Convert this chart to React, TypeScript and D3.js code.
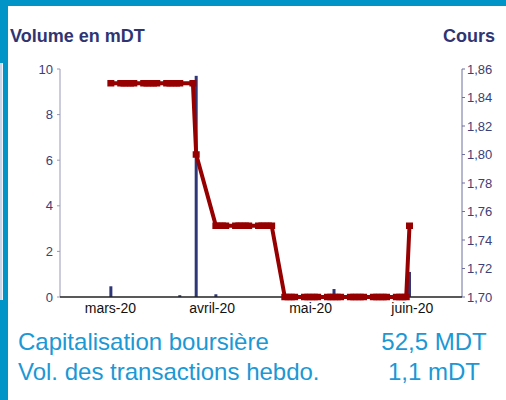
import React from "react";
import * as d3 from "d3";

// ---- data ----
const priceDates = [
  "2020-02-28",
  "2020-03-02", "2020-03-03", "2020-03-04", "2020-03-05", "2020-03-06",
  "2020-03-09", "2020-03-10", "2020-03-11", "2020-03-12", "2020-03-13",
  "2020-03-16", "2020-03-17", "2020-03-18", "2020-03-19", "2020-03-20",
  "2020-03-24", "2020-03-25",
  "2020-03-31", "2020-04-01", "2020-04-02", "2020-04-03",
  "2020-04-06", "2020-04-07", "2020-04-08", "2020-04-09", "2020-04-10",
  "2020-04-13", "2020-04-14", "2020-04-15", "2020-04-16", "2020-04-17",
  "2020-04-21", "2020-04-22", "2020-04-23", "2020-04-24",
  "2020-04-27", "2020-04-28", "2020-04-29", "2020-04-30", "2020-05-01",
  "2020-05-04", "2020-05-05", "2020-05-06", "2020-05-07", "2020-05-08",
  "2020-05-11", "2020-05-12", "2020-05-13", "2020-05-14", "2020-05-15",
  "2020-05-18", "2020-05-19", "2020-05-20", "2020-05-21", "2020-05-22",
  "2020-05-25", "2020-05-26", "2020-05-27", "2020-05-28",
  "2020-05-29",
];
const priceValues = [
  1.85,
  1.85, 1.85, 1.85, 1.85, 1.85,
  1.85, 1.85, 1.85, 1.85, 1.85,
  1.85, 1.85, 1.85, 1.85, 1.85,
  1.85, 1.80,
  1.75, 1.75, 1.75, 1.75,
  1.75, 1.75, 1.75, 1.75, 1.75,
  1.75, 1.75, 1.75, 1.75, 1.75,
  1.70, 1.70, 1.70, 1.70,
  1.70, 1.70, 1.70, 1.70, 1.70,
  1.70, 1.70, 1.70, 1.70, 1.70,
  1.70, 1.70, 1.70, 1.70, 1.70,
  1.70, 1.70, 1.70, 1.70, 1.70,
  1.70, 1.70, 1.70, 1.70,
  1.75,
];
const volumeDates = ["2020-02-28", "2020-03-20", "2020-03-25", "2020-03-31", "2020-05-06", "2020-05-29"];
const volumeValues = [0.47, 0.08, 9.7, 0.12, 0.35, 1.1];
const monthTicks = ["2020-03-01", "2020-04-01", "2020-05-01", "2020-06-01"];
const monthLabels = ["mars-20", "avril-20", "mai-20", "juin-20"];
const volumeTicks = [0, 2, 4, 6, 8, 10];
const priceTicks = [1.7, 1.72, 1.74, 1.76, 1.78, 1.8, 1.82, 1.84, 1.86];
const titleLeft = "Volume en mDT";
const titleRight = "Cours";
const infoLabels = ["Capitalisation boursière", "Vol. des transactions hebdo."];
const infoValues = ["52,5 MDT", "1,1 mDT"];

const parse = (s: string) => {
  const [y, m, d] = s.split("-").map(Number);
  return new Date(y, m - 1, d);
};

const FONT = "'Liberation Sans', Arial, sans-serif";
const NAVY = "#2f3572";
const AXIS_TXT = "#3b4079";
const RED = "#960000";
const BAR = "#2e3878";
const BLUE = "#0095c6";
const INFO = "#1b98d5";

export default function App() {
  const W = 506, H = 400;
  const left = 60, right = 462, top = 69, bottom = 297;

  const x = d3.scaleTime()
    .domain([new Date(2020, 1, 12, 12), new Date(2020, 5, 14)])
    .range([left, right]);
  const yVol = d3.scaleLinear().domain([0, 10]).range([bottom, top]);
  const yPrice = d3.scaleLinear().domain([1.7, 1.86]).range([bottom, top]);

  const pts = priceDates.map((d, i) => ({ d: parse(d), v: priceValues[i] }));
  const line = d3.line<{ d: Date; v: number }>()
    .x((p) => x(p.d))
    .y((p) => yPrice(p.v));

  const barW = 3;
  const mw = 7, mh = 6.5;
  const fmtPrice = (v: number) => v.toFixed(2).replace(".", ",");

  return (
    <svg width={W} height={H} style={{ position: "absolute", left: 0, top: 0, background: "#fff" }}
      fontFamily={FONT}>
      <rect x={0} y={0} width={W} height={H} fill="#fff" />
      {/* frame */}
      <rect x={0} y={0} width={W} height={6} fill={BLUE} />
      <rect x={0} y={0} width={8} height={H} fill={BLUE} />
      <rect x={0} y={63} width={2} height={237} fill="#c9d7ea" />
      <rect x={2} y={63} width={1} height={237} fill="#eef4fa" />

      {/* titles */}
      <text x={10} y={42} fontSize={18} fontWeight="bold" fill={NAVY}>{titleLeft}</text>
      <text x={495} y={42} fontSize={18} fontWeight="bold" fill={NAVY} textAnchor="end">{titleRight}</text>

      {/* bars */}
      {volumeDates.map((d, i) => (
        <rect key={d} x={x(parse(d)) - barW / 2} y={yVol(volumeValues[i])} width={barW}
          height={yVol(0) - yVol(volumeValues[i])} fill={BAR} />
      ))}

      {/* axes */}
      <line x1={left} x2={left} y1={top} y2={bottom} stroke="#9799b8" strokeWidth={1} />
      <line x1={right} x2={right} y1={top} y2={bottom} stroke="#6d70a0" strokeWidth={1} />
      {volumeTicks.map((t) => (
        <g key={t}>
          <line x1={left - 3} x2={left} y1={yVol(t)} y2={yVol(t)} stroke="#9799b8" />
          <text x={53} y={yVol(t)} dy="0.35em" fontSize={13} fill={AXIS_TXT} textAnchor="end">{t}</text>
        </g>
      ))}
      {priceTicks.map((t) => (
        <g key={t}>
          <line x1={right} x2={right + 3} y1={yPrice(t)} y2={yPrice(t)} stroke="#6d70a0" />
          <text x={467} y={yPrice(t)} dy="0.35em" fontSize={13} fill={AXIS_TXT}>{fmtPrice(t)}</text>
        </g>
      ))}
      <line x1={left} x2={right} y1={bottom} y2={bottom} stroke="#222" strokeWidth={1.3} />
      {monthTicks.map((m, i) => (
        <text key={m} x={x(parse(m))} dx={-7} y={313} fontSize={14} fill="#111" textAnchor="middle">
          {monthLabels[i]}
        </text>
      ))}

      {/* price line */}
      <path d={line(pts) || ""} fill="none" stroke={RED} strokeWidth={4} strokeLinejoin="round" />
      {pts.map((p, i) => (
        <rect key={i} x={x(p.d) - mw / 2} y={yPrice(p.v) - mh / 2} width={mw} height={mh} fill={RED} />
      ))}

      {/* info */}
      {infoLabels.map((l, i) => (
        <g key={l}>
          <text x={18} y={350 + i * 30} fontSize={24} fill={INFO}>{l}</text>
          <text x={434} y={350 + i * 30} fontSize={24} fill={INFO} textAnchor="middle">{infoValues[i]}</text>
        </g>
      ))}
    </svg>
  );
}
